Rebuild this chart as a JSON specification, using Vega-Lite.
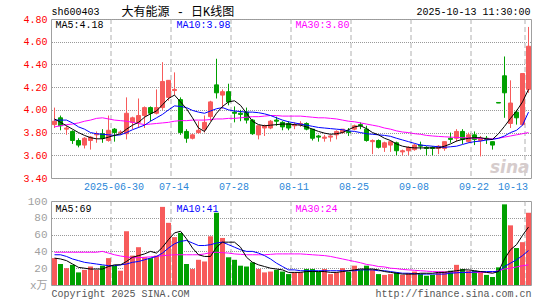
{
  "$schema": "https://vega.github.io/schema/vega-lite/v6.json",
  "autosize": {"type": "pad"},
  "padding": {"left": 22, "top": 5, "right": 10, "bottom": 5},
  "background": "white",
  "bounds": "flush",
  "spacing": 23,
  "data": {"values": [
    {"d":"2025-06-16","o":3.87,"h":4.02,"l":3.84,"c":3.90,"v":32,"m5":3.92,"m10":3.91,"m30":3.85,"vm5":32,"vm10":36,"vm30":39},
    {"d":"2025-06-17","o":3.93,"h":3.95,"l":3.82,"c":3.86,"v":25,"m5":3.89,"m10":3.91,"m30":3.86,"vm5":31,"vm10":36,"vm30":39},
    {"d":"2025-06-18","o":3.83,"h":3.86,"l":3.78,"c":3.84,"v":20,"m5":3.86,"m10":3.91,"m30":3.87,"vm5":29,"vm10":34,"vm30":39},
    {"d":"2025-06-19","o":3.81,"h":3.82,"l":3.70,"c":3.73,"v":24,"m5":3.83,"m10":3.885,"m30":3.875,"vm5":25,"vm10":31,"vm30":39},
    {"d":"2025-06-20","o":3.73,"h":3.75,"l":3.67,"c":3.69,"v":15,"m5":3.80,"m10":3.85,"m30":3.885,"vm5":21,"vm10":29,"vm30":39},
    {"d":"2025-06-23","o":3.69,"h":3.76,"l":3.66,"c":3.75,"v":18,"m5":3.775,"m10":3.83,"m30":3.90,"vm5":20,"vm10":27,"vm30":39},
    {"d":"2025-06-24","o":3.73,"h":3.77,"l":3.65,"c":3.76,"v":22,"m5":3.755,"m10":3.80,"m30":3.91,"vm5":19,"vm10":26,"vm30":39},
    {"d":"2025-06-25","o":3.78,"h":3.81,"l":3.71,"c":3.79,"v":18,"m5":3.745,"m10":3.79,"m30":3.925,"vm5":19,"vm10":25,"vm30":39},
    {"d":"2025-06-26","o":3.79,"h":3.83,"l":3.71,"c":3.75,"v":23,"m5":3.745,"m10":3.785,"m30":3.93,"vm5":19,"vm10":24,"vm30":40},
    {"d":"2025-06-27","o":3.73,"h":3.95,"l":3.72,"c":3.82,"v":32,"m5":3.76,"m10":3.78,"m30":3.92,"vm5":22,"vm10":23,"vm30":38},
    {"d":"2025-06-30","o":3.83,"h":3.84,"l":3.72,"c":3.80,"v":23,"m5":3.775,"m10":3.775,"m30":3.91,"vm5":24,"vm10":23,"vm30":36},
    {"d":"2025-07-01","o":3.80,"h":3.82,"l":3.78,"c":3.805,"v":17,"m5":3.79,"m10":3.78,"m30":3.905,"vm5":24,"vm10":24,"vm30":34.5},
    {"d":"2025-07-02","o":3.79,"h":4.11,"l":3.74,"c":3.97,"v":64,"m5":3.83,"m10":3.80,"m30":3.90,"vm5":28,"vm10":25,"vm30":33.5},
    {"d":"2025-07-03","o":3.89,"h":3.94,"l":3.83,"c":3.93,"v":35,"m5":3.865,"m10":3.825,"m30":3.89,"vm5":33,"vm10":27,"vm30":32.5},
    {"d":"2025-07-04","o":3.89,"h":4.10,"l":3.84,"c":3.95,"v":45,"m5":3.89,"m10":3.845,"m30":3.88,"vm5":35,"vm10":28,"vm30":32.5},
    {"d":"2025-07-07","o":3.95,"h":4.03,"l":3.84,"c":4.02,"v":33,"m5":3.935,"m10":3.865,"m30":3.87,"vm5":37,"vm10":30,"vm30":33},
    {"d":"2025-07-08","o":4.02,"h":4.03,"l":3.90,"c":3.97,"v":32,"m5":3.965,"m10":3.90,"m30":3.875,"vm5":40,"vm10":32,"vm30":33.5},
    {"d":"2025-07-09","o":3.97,"h":4.18,"l":3.96,"c":4.02,"v":35,"m5":3.99,"m10":3.93,"m30":3.88,"vm5":38,"vm10":34,"vm30":34},
    {"d":"2025-07-10","o":4.02,"h":4.42,"l":4.00,"c":4.25,"v":93,"m5":4.045,"m10":3.96,"m30":3.885,"vm5":45,"vm10":38,"vm30":35},
    {"d":"2025-07-11","o":4.11,"h":4.26,"l":4.08,"c":4.26,"v":74,"m5":4.10,"m10":4.00,"m30":3.89,"vm5":54,"vm10":44,"vm30":35.5},
    {"d":"2025-07-14","o":4.17,"h":4.33,"l":4.13,"c":4.18,"v":57,"m5":4.13,"m10":4.035,"m30":3.90,"vm5":62,"vm10":49,"vm30":36},
    {"d":"2025-07-15","o":4.09,"h":4.11,"l":3.78,"c":3.80,"v":62,"m5":4.07,"m10":4.03,"m30":3.905,"vm5":64,"vm10":52,"vm30":36},
    {"d":"2025-07-16","o":3.81,"h":3.83,"l":3.71,"c":3.75,"v":25,"m5":4.01,"m10":4.02,"m30":3.905,"vm5":55,"vm10":53,"vm30":36},
    {"d":"2025-07-17","o":3.75,"h":3.79,"l":3.74,"c":3.78,"v":19,"m5":3.93,"m10":3.995,"m30":3.91,"vm5":44,"vm10":50,"vm30":36},
    {"d":"2025-07-18","o":3.80,"h":3.90,"l":3.79,"c":3.82,"v":30,"m5":3.84,"m10":3.98,"m30":3.91,"vm5":36,"vm10":47,"vm30":36},
    {"d":"2025-07-21","o":3.83,"h":3.95,"l":3.80,"c":3.89,"v":28,"m5":3.81,"m10":3.97,"m30":3.91,"vm5":34,"vm10":47,"vm30":37},
    {"d":"2025-07-22","o":3.94,"h":4.08,"l":3.90,"c":4.07,"v":58,"m5":3.89,"m10":3.99,"m30":3.915,"vm5":34,"vm10":48,"vm30":38.5},
    {"d":"2025-07-23","o":4.22,"h":4.45,"l":4.10,"c":4.15,"v":86,"m5":3.97,"m10":4.01,"m30":3.92,"vm5":45,"vm10":50,"vm30":39},
    {"d":"2025-07-24","o":4.13,"h":4.18,"l":4.01,"c":4.16,"v":56,"m5":4.03,"m10":4.02,"m30":3.92,"vm5":51,"vm10":51,"vm30":38.5},
    {"d":"2025-07-25","o":4.16,"h":4.23,"l":4.04,"c":4.07,"v":33,"m5":4.07,"m10":4.00,"m30":3.925,"vm5":51,"vm10":48,"vm30":38},
    {"d":"2025-07-28","o":3.98,"h":4.03,"l":3.89,"c":3.97,"v":30,"m5":4.08,"m10":3.99,"m30":3.925,"vm5":51,"vm10":45,"vm30":37},
    {"d":"2025-07-29","o":3.97,"h":4.00,"l":3.90,"c":3.96,"v":23,"m5":4.04,"m10":3.985,"m30":3.93,"vm5":45,"vm10":42,"vm30":36.5},
    {"d":"2025-07-30","o":3.98,"h":4.02,"l":3.88,"c":3.91,"v":22,"m5":3.97,"m10":3.98,"m30":3.935,"vm5":33,"vm10":40,"vm30":36},
    {"d":"2025-07-31","o":3.91,"h":3.92,"l":3.78,"c":3.79,"v":27,"m5":3.90,"m10":3.98,"m30":3.94,"vm5":27,"vm10":40,"vm30":36},
    {"d":"2025-08-01","o":3.78,"h":3.86,"l":3.74,"c":3.86,"v":19,"m5":3.87,"m10":3.975,"m30":3.94,"vm5":24,"vm10":38,"vm30":36},
    {"d":"2025-08-04","o":3.84,"h":3.87,"l":3.77,"c":3.86,"v":15,"m5":3.86,"m10":3.965,"m30":3.945,"vm5":22,"vm10":35,"vm30":36},
    {"d":"2025-08-05","o":3.84,"h":3.91,"l":3.83,"c":3.90,"v":16,"m5":3.865,"m10":3.95,"m30":3.95,"vm5":20,"vm10":31,"vm30":36.5},
    {"d":"2025-08-06","o":3.91,"h":3.94,"l":3.86,"c":3.90,"v":18,"m5":3.87,"m10":3.93,"m30":3.95,"vm5":19,"vm10":26,"vm30":37},
    {"d":"2025-08-07","o":3.89,"h":3.90,"l":3.82,"c":3.85,"v":16,"m5":3.875,"m10":3.91,"m30":3.945,"vm5":18,"vm10":22,"vm30":37},
    {"d":"2025-08-08","o":3.88,"h":3.90,"l":3.82,"c":3.84,"v":13,"m5":3.875,"m10":3.895,"m30":3.945,"vm5":15,"vm10":18,"vm30":37},
    {"d":"2025-08-11","o":3.86,"h":3.89,"l":3.83,"c":3.87,"v":15,"m5":3.87,"m10":3.885,"m30":3.945,"vm5":15,"vm10":18,"vm30":37},
    {"d":"2025-08-12","o":3.87,"h":3.90,"l":3.85,"c":3.88,"v":15,"m5":3.865,"m10":3.875,"m30":3.945,"vm5":15,"vm10":17,"vm30":37},
    {"d":"2025-08-13","o":3.88,"h":3.89,"l":3.82,"c":3.83,"v":19,"m5":3.85,"m10":3.865,"m30":3.94,"vm5":16,"vm10":17,"vm30":36.5},
    {"d":"2025-08-14","o":3.83,"h":3.83,"l":3.73,"c":3.75,"v":19,"m5":3.83,"m10":3.855,"m30":3.935,"vm5":16,"vm10":17,"vm30":36},
    {"d":"2025-08-15","o":3.77,"h":3.78,"l":3.72,"c":3.76,"v":16,"m5":3.81,"m10":3.845,"m30":3.93,"vm5":16,"vm10":17,"vm30":35.5},
    {"d":"2025-08-18","o":3.75,"h":3.78,"l":3.72,"c":3.76,"v":19,"m5":3.795,"m10":3.84,"m30":3.93,"vm5":16,"vm10":17,"vm30":35},
    {"d":"2025-08-19","o":3.76,"h":3.78,"l":3.72,"c":3.77,"v":13,"m5":3.785,"m10":3.835,"m30":3.925,"vm5":15,"vm10":17,"vm30":34},
    {"d":"2025-08-20","o":3.78,"h":3.82,"l":3.74,"c":3.81,"v":15,"m5":3.79,"m10":3.83,"m30":3.92,"vm5":15,"vm10":17,"vm30":32.5},
    {"d":"2025-08-21","o":3.80,"h":3.83,"l":3.79,"c":3.83,"v":20,"m5":3.80,"m10":3.825,"m30":3.91,"vm5":16,"vm10":17,"vm30":31},
    {"d":"2025-08-22","o":3.81,"h":3.84,"l":3.77,"c":3.80,"v":16,"m5":3.825,"m10":3.815,"m30":3.90,"vm5":17,"vm10":17,"vm30":29.5},
    {"d":"2025-08-25","o":3.83,"h":3.87,"l":3.82,"c":3.86,"v":23,"m5":3.85,"m10":3.81,"m30":3.895,"vm5":18,"vm10":17,"vm30":28},
    {"d":"2025-08-26","o":3.87,"h":3.89,"l":3.83,"c":3.86,"v":18,"m5":3.86,"m10":3.80,"m30":3.885,"vm5":19,"vm10":18,"vm30":26.5},
    {"d":"2025-08-27","o":3.83,"h":3.86,"l":3.72,"c":3.73,"v":23,"m5":3.835,"m10":3.79,"m30":3.875,"vm5":19,"vm10":18,"vm30":24.5},
    {"d":"2025-08-28","o":3.72,"h":3.74,"l":3.61,"c":3.73,"v":18,"m5":3.80,"m10":3.785,"m30":3.865,"vm5":19,"vm10":18,"vm30":23.5},
    {"d":"2025-08-29","o":3.73,"h":3.74,"l":3.66,"c":3.67,"v":13,"m5":3.78,"m10":3.78,"m30":3.855,"vm5":18,"vm10":17,"vm30":22},
    {"d":"2025-09-01","o":3.67,"h":3.72,"l":3.63,"c":3.71,"v":12,"m5":3.75,"m10":3.775,"m30":3.84,"vm5":16,"vm10":17,"vm30":21.5},
    {"d":"2025-09-02","o":3.69,"h":3.73,"l":3.63,"c":3.72,"v":13,"m5":3.73,"m10":3.767,"m30":3.83,"vm5":15,"vm10":16,"vm30":20},
    {"d":"2025-09-03","o":3.71,"h":3.72,"l":3.60,"c":3.64,"v":15,"m5":3.70,"m10":3.75,"m30":3.815,"vm5":14,"vm10":15,"vm30":19.5},
    {"d":"2025-09-04","o":3.63,"h":3.65,"l":3.60,"c":3.64,"v":12,"m5":3.68,"m10":3.735,"m30":3.805,"vm5":13,"vm10":14,"vm30":18.5},
    {"d":"2025-09-05","o":3.64,"h":3.68,"l":3.60,"c":3.67,"v":14,"m5":3.67,"m10":3.72,"m30":3.80,"vm5":13,"vm10":14,"vm30":18},
    {"d":"2025-09-08","o":3.65,"h":3.70,"l":3.64,"c":3.69,"v":16,"m5":3.665,"m10":3.705,"m30":3.79,"vm5":13,"vm10":13.5,"vm30":17.5},
    {"d":"2025-09-09","o":3.69,"h":3.72,"l":3.65,"c":3.68,"v":13,"m5":3.665,"m10":3.69,"m30":3.785,"vm5":14,"vm10":13,"vm30":17},
    {"d":"2025-09-10","o":3.67,"h":3.68,"l":3.60,"c":3.66,"v":11,"m5":3.665,"m10":3.685,"m30":3.775,"vm5":14,"vm10":13,"vm30":16.5},
    {"d":"2025-09-11","o":3.67,"h":3.68,"l":3.60,"c":3.66,"v":12,"m5":3.665,"m10":3.68,"m30":3.77,"vm5":14,"vm10":13,"vm30":16},
    {"d":"2025-09-12","o":3.66,"h":3.69,"l":3.61,"c":3.68,"v":15,"m5":3.665,"m10":3.675,"m30":3.766,"vm5":15,"vm10":13,"vm30":15.8},
    {"d":"2025-09-15","o":3.66,"h":3.72,"l":3.64,"c":3.72,"v":16,"m5":3.68,"m10":3.67,"m30":3.763,"vm5":15,"vm10":13,"vm30":15.5},
    {"d":"2025-09-16","o":3.75,"h":3.80,"l":3.71,"c":3.74,"v":17,"m5":3.70,"m10":3.675,"m30":3.76,"vm5":16,"vm10":14,"vm30":15.3},
    {"d":"2025-09-17","o":3.75,"h":3.83,"l":3.72,"c":3.81,"v":24,"m5":3.725,"m10":3.68,"m30":3.757,"vm5":17,"vm10":14.5,"vm30":15},
    {"d":"2025-09-18","o":3.81,"h":3.83,"l":3.70,"c":3.74,"v":19,"m5":3.74,"m10":3.695,"m30":3.755,"vm5":18,"vm10":15,"vm30":15},
    {"d":"2025-09-19","o":3.72,"h":3.80,"l":3.71,"c":3.78,"v":17,"m5":3.75,"m10":3.71,"m30":3.753,"vm5":18,"vm10":15,"vm30":15},
    {"d":"2025-09-22","o":3.78,"h":3.81,"l":3.69,"c":3.74,"v":17,"m5":3.755,"m10":3.72,"m30":3.75,"vm5":17,"vm10":15.5,"vm30":15},
    {"d":"2025-09-23","o":3.73,"h":3.77,"l":3.59,"c":3.75,"v":16,"m5":3.755,"m10":3.725,"m30":3.748,"vm5":16,"vm10":16,"vm30":15},
    {"d":"2025-09-24","o":3.75,"h":3.77,"l":3.70,"c":3.74,"v":12,"m5":3.745,"m10":3.735,"m30":3.745,"vm5":15,"vm10":16,"vm30":15},
    {"d":"2025-09-25","o":3.72,"h":3.72,"l":3.65,"c":3.69,"v":9.5,"m5":3.74,"m10":3.74,"m30":3.745,"vm5":14,"vm10":16,"vm30":15.5},
    {"d":"2025-09-26","o":4.065,"h":4.065,"l":4.06,"c":4.06,"v":21,"m5":3.79,"m10":3.75,"m30":3.75,"vm5":16,"vm10":16,"vm30":17},
    {"d":"2025-09-29","o":4.30,"h":4.47,"l":3.93,"c":4.15,"v":96,"m5":3.855,"m10":3.77,"m30":3.76,"vm5":31,"vm10":22,"vm30":19},
    {"d":"2025-09-30","o":3.88,"h":4.26,"l":3.84,"c":4.06,"v":71,"m5":3.925,"m10":3.80,"m30":3.77,"vm5":42,"vm10":26,"vm30":20},
    {"d":"2025-10-09","o":3.98,"h":4.00,"l":3.87,"c":3.93,"v":44,"m5":3.99,"m10":3.82,"m30":3.78,"vm5":48,"vm10":30,"vm30":21.5},
    {"d":"2025-10-10","o":3.87,"h":4.32,"l":3.86,"c":4.32,"v":51,"m5":4.07,"m10":3.865,"m30":3.79,"vm5":59,"vm10":35,"vm30":23},
    {"d":"2025-10-13","o":4.18,"h":4.73,"l":4.15,"c":4.56,"v":86,"m5":4.18,"m10":3.98,"m30":3.80,"vm5":69,"vm10":41,"vm30":24}
  ]},
  "config": {
    "view": {"stroke": "#a0a0a0", "strokeWidth": 1},
    "axis": {"labelFont": "Liberation Mono", "labelFontSize": 10, "ticks": false, "domain": false, "labelPadding": 4, "labelOverlap": false, "labelBound": false},
    "text": {"font": "Liberation Mono", "fontSize": 10}
  },
  "vconcat": [
    {
      "width": 480,
      "height": 159,
      "resolve": {"axis": {"y": "independent"}},
      "encoding": {
        "x": {
          "field": "d", "type": "ordinal", "title": null,
          "scale": {"type": "band", "paddingInner": 0, "paddingOuter": 0, "range": [0.5, 480.5]},
          "axis": {
            "values": ["2025-06-30","2025-07-14","2025-07-28","2025-08-11","2025-08-25","2025-09-08","2025-09-22","2025-10-13"],
            "labelExpr": "datum.value == '2025-06-30' ? datum.value : substring(datum.value, 5, 10)",
            "bandPosition": 0, "translate": 0, "grid": true, "gridDash": [5, 3], "gridColor": "#b0b0b0",
            "labelColor": "#2b87d8", "labelAngle": 0, "labelFlush": 8, "labelOverlap": false
          }
        }
      },
      "layer": [
        {
          "mark": {"type": "rule", "strokeWidth": 1},
          "encoding": {
            "y": {"field": "l", "type": "quantitative", "title": null,
              "scale": {"domain": [3.4, 4.8], "nice": false, "zero": false},
              "axis": {"orient": "left", "values": [3.4, 3.8, 4.2, 4.6], "format": ".2f", "labelColor": "#ff0000",
                "labelOverlap": false, "grid": true, "gridDash": [1, 1], "gridColor": "#999999"}},
            "y2": {"field": "h"},
            "color": {"condition": {"test": "datum.c >= datum.o", "value": "#f75b5b"}, "value": "#00a000"}
          }
        },
        {
          "mark": {"type": "bar", "width": {"band": 0.6667}, "strokeWidth": 1},
          "encoding": {
            "y": {"field": "o", "type": "quantitative", "title": null,
              "axis": {"orient": "left", "values": [3.6, 4.0, 4.4, 4.8], "format": ".2f", "labelColor": "#ff0000",
                "labelOverlap": false, "grid": true, "gridDash": [1, 1], "gridColor": "#999999"}},
            "y2": {"field": "c"},
            "color": {"condition": {"test": "datum.c >= datum.o", "value": "#f75b5b"}, "value": "#00a000"},
            "stroke": {"condition": {"test": "datum.c >= datum.o", "value": "#f75b5b"}, "value": "#00a000"}
          }
        },
        {
          "mark": {"type": "line", "strokeWidth": 1, "color": "#ff00ff"},
          "encoding": {"y": {"field": "m30", "type": "quantitative", "title": null, "axis": null}}
        },
        {
          "mark": {"type": "line", "strokeWidth": 1, "color": "#0000ff"},
          "encoding": {"y": {"field": "m10", "type": "quantitative", "title": null, "axis": null}}
        },
        {
          "mark": {"type": "line", "strokeWidth": 1, "color": "#000000"},
          "encoding": {"y": {"field": "m5", "type": "quantitative", "title": null, "axis": null}}
        },
        {
          "data": {"values": [{}]},
          "mark": {"type": "text", "align": "right", "baseline": "middle", "dx": 1, "font": "DejaVu Sans", "fontSize": 17, "fontWeight": "bold", "fontStyle": "italic", "color": "#d6cccc"},
          "encoding": {"x": {"datum": "2025-10-13", "type": "ordinal"}, "y": {"datum": 3.49, "type": "quantitative", "axis": null}, "text": {"value": "sina"}}
        },
        {
          "data": {"values": [{}]},
          "mark": {"type": "text", "align": "left", "baseline": "middle", "dx": -3, "dy": -7, "color": "#000000"},
          "encoding": {"x": {"datum": "2025-06-16", "type": "ordinal"}, "y": {"datum": 4.8, "type": "quantitative", "axis": null}, "text": {"value": "sh600403"}}
        },
        {
          "data": {"values": [{}]},
          "mark": {"type": "text", "align": "left", "baseline": "middle", "dx": 1, "dy": -7, "font": "Liberation Mono, Noto Sans CJK SC", "fontSize": 12, "color": "#000000"},
          "encoding": {"x": {"datum": "2025-07-01", "type": "ordinal"}, "y": {"datum": 4.8, "type": "quantitative", "axis": null}, "text": {"value": "大有能源 - 日K线图"}}
        },
        {
          "data": {"values": [{}]},
          "mark": {"type": "text", "align": "right", "baseline": "middle", "dx": 2, "dy": -7, "color": "#000000"},
          "encoding": {"x": {"datum": "2025-10-13", "type": "ordinal"}, "y": {"datum": 4.8, "type": "quantitative", "axis": null}, "text": {"value": "2025-10-13 11:30:00"}}
        },
        {
          "data": {"values": [{}]},
          "mark": {"type": "text", "align": "left", "baseline": "middle", "dx": 1, "dy": 6, "color": "#000000"},
          "encoding": {"x": {"datum": "2025-06-16", "type": "ordinal"}, "y": {"datum": 4.8, "type": "quantitative", "axis": null}, "text": {"value": "MA5:4.18"}}
        },
        {
          "data": {"values": [{}]},
          "mark": {"type": "text", "align": "left", "baseline": "middle", "dx": 2, "dy": 6, "color": "#0000ff"},
          "encoding": {"x": {"datum": "2025-07-14", "type": "ordinal"}, "y": {"datum": 4.8, "type": "quantitative", "axis": null}, "text": {"value": "MA10:3.98"}}
        },
        {
          "data": {"values": [{}]},
          "mark": {"type": "text", "align": "left", "baseline": "middle", "dx": 1, "dy": 6, "color": "#ff00ff"},
          "encoding": {"x": {"datum": "2025-08-11", "type": "ordinal"}, "y": {"datum": 4.8, "type": "quantitative", "axis": null}, "text": {"value": "MA30:3.80"}}
        }
      ]
    },
    {
      "width": 480,
      "height": 84,
      "resolve": {"axis": {"y": "independent"}},
      "encoding": {
        "x": {
          "field": "d", "type": "ordinal", "title": null,
          "scale": {"type": "band", "paddingInner": 0, "paddingOuter": 0, "range": [0.5, 480.5]},
          "axis": {
            "values": ["2025-06-30","2025-07-14","2025-07-28","2025-08-11","2025-08-25","2025-09-08","2025-09-22","2025-10-13"],
            "labels": false, "bandPosition": 0, "translate": 0, "grid": true, "gridDash": [5, 3], "gridColor": "#b0b0b0"
          }
        }
      },
      "layer": [
        {
          "mark": {"type": "bar", "width": {"band": 0.8333}},
          "encoding": {
            "y": {"field": "v", "type": "quantitative", "title": null,
              "scale": {"domain": [0, 100], "nice": false},
              "axis": {"orient": "left", "values": [0, 40, 80], "labelExpr": "datum.value == 0 ? 'x万' : datum.label",
                "labelFont": "Liberation Mono, Noto Sans CJK SC", "labelFontSize": 11, "labelColor": "#a0a0a0",
                "labelOverlap": false, "grid": true, "gridDash": [1, 1], "gridColor": "#999999"}},
            "color": {"condition": {"test": "datum.c >= datum.o", "value": "#f75b5b"}, "value": "#00a000"}
          }
        },
        {
          "mark": {"type": "line", "strokeWidth": 1, "color": "#ff00ff"},
          "encoding": {"y": {"field": "vm30", "type": "quantitative", "title": null,
            "axis": {"orient": "left", "values": [20, 60, 100], "labelFont": "Liberation Mono", "labelFontSize": 11, "labelColor": "#a0a0a0",
              "labelOverlap": false, "grid": true, "gridDash": [1, 1], "gridColor": "#999999"}}}
        },
        {
          "mark": {"type": "line", "strokeWidth": 1, "color": "#0000ff"},
          "encoding": {"y": {"field": "vm10", "type": "quantitative", "title": null, "axis": null}}
        },
        {
          "mark": {"type": "line", "strokeWidth": 1, "color": "#000000"},
          "encoding": {"y": {"field": "vm5", "type": "quantitative", "title": null, "axis": null}}
        },
        {
          "data": {"values": [{}]},
          "mark": {"type": "text", "align": "left", "baseline": "middle", "dx": 1, "dy": 8, "color": "#000000"},
          "encoding": {"x": {"datum": "2025-06-16", "type": "ordinal"}, "y": {"datum": 100, "type": "quantitative", "axis": null}, "text": {"value": "MA5:69"}}
        },
        {
          "data": {"values": [{}]},
          "mark": {"type": "text", "align": "left", "baseline": "middle", "dx": 2, "dy": 8, "color": "#0000ff"},
          "encoding": {"x": {"datum": "2025-07-14", "type": "ordinal"}, "y": {"datum": 100, "type": "quantitative", "axis": null}, "text": {"value": "MA10:41"}}
        },
        {
          "data": {"values": [{}]},
          "mark": {"type": "text", "align": "left", "baseline": "middle", "dx": 1, "dy": 8, "color": "#ff00ff"},
          "encoding": {"x": {"datum": "2025-08-11", "type": "ordinal"}, "y": {"datum": 100, "type": "quantitative", "axis": null}, "text": {"value": "MA30:24"}}
        },
        {
          "data": {"values": [{}]},
          "mark": {"type": "text", "align": "left", "baseline": "middle", "dx": -3, "dy": 9, "color": "#555555"},
          "encoding": {"x": {"datum": "2025-06-16", "type": "ordinal"}, "y": {"datum": 0, "type": "quantitative", "axis": null}, "text": {"value": "Copyright 2025 SINA.COM"}}
        },
        {
          "data": {"values": [{}]},
          "mark": {"type": "text", "align": "right", "baseline": "middle", "dx": 3, "dy": 9, "color": "#555555"},
          "encoding": {"x": {"datum": "2025-10-13", "type": "ordinal"}, "y": {"datum": 0, "type": "quantitative", "axis": null}, "text": {"value": "http://finance.sina.com.cn"}}
        }
      ]
    }
  ]
}
